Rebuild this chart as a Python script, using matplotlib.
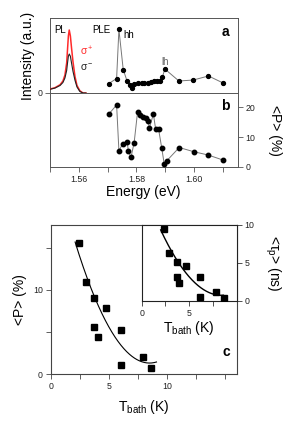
import numpy as np
import matplotlib
matplotlib.use("Agg")
import matplotlib.pyplot as plt
from matplotlib.ticker import FixedLocator

plt.rcParams['font.family'] = ['Liberation Sans', 'DejaVu Sans']
plt.rcParams['mathtext.fontset'] = 'custom'
plt.rcParams['mathtext.rm'] = 'Liberation Sans'
plt.rcParams['mathtext.it'] = 'Liberation Sans:italic'

# ---------------- data ----------------
# panel a: PL spectra
pl_energy = [1.5499, 1.5516, 1.5534, 1.5544, 1.5551, 1.5557, 1.5560, 1.5563,
             1.5566, 1.5570, 1.5574, 1.5579, 1.5586, 1.5593, 1.5603, 1.5614, 1.5624]
pl_sigma_plus = [0.053, 0.07, 0.11, 0.16, 0.24, 0.40, 0.58, 0.76,
                 0.84, 0.76, 0.60, 0.42, 0.22, 0.10, 0.03, 0.0, 0.0]
pl_sigma_minus = [0.05, 0.065, 0.10, 0.14, 0.20, 0.30, 0.40, 0.49,
                  0.52, 0.49, 0.40, 0.29, 0.17, 0.08, 0.02, 0.0, 0.0]
# panel a: PLE
ple_energy = [1.5703, 1.5731, 1.5739, 1.5754, 1.5767, 1.5776, 1.5783, 1.5793,
              1.5805, 1.5818, 1.5828, 1.5840, 1.5851, 1.5861, 1.5871, 1.5882,
              1.5890, 1.5899, 1.5948, 1.5998, 1.6051, 1.6102]
ple_intensity = [0.124, 0.193, 0.847, 0.313, 0.164, 0.107, 0.071, 0.12,
                 0.129, 0.137, 0.127, 0.137, 0.153, 0.16, 0.16, 0.16,
                 0.207, 0.32, 0.16, 0.173, 0.227, 0.133]
# panel b: polarization vs energy
pol_energy = [1.5704, 1.5731, 1.5739, 1.5752, 1.5768, 1.5772, 1.5781, 1.5792,
              1.5804, 1.5812, 1.5822, 1.5832, 1.5841, 1.5845, 1.5859, 1.5867,
              1.5877, 1.5888, 1.5897, 1.5905, 1.5949, 1.6000, 1.6050, 1.6102]
pol_values = [17.7, 20.7, 5.4, 7.7, 8.2, 5.3, 3.2, 8.1,
              18.4, 17.3, 16.8, 16.4, 15.3, 12.9, 17.7, 12.6,
              12.7, 6.4, 0.9, 2.0, 6.5, 5.1, 4.0, 2.3]
# panel c: polarization vs bath temperature
tbath = [2.44, 3.02, 3.76, 4.74, 3.76, 4.05, 6.06, 6.06, 7.90, 8.65]
pol_tbath = [15.56, 10.92, 9.01, 7.89, 5.63, 4.37, 5.24, 1.07, 1.99, 0.68]
# inset: spin relaxation time vs bath temperature
tbath_inset = [2.36, 2.92, 3.70, 4.68, 3.70, 3.97, 6.09, 6.09, 7.85, 8.63]
tau_inset = [9.43, 6.28, 5.17, 4.64, 3.12, 2.41, 3.20, 0.57, 1.22, 0.43]
# fitted curves (quadratic model: c + k*(T - T0)^2)
fit_main = (1.3, 0.351, 8.5, 2.1, 9.1)     # c, k, T0, Tstart, Tend
fit_inset = (0.75, 0.21, 8.4, 2.0, 8.6)

# ---------------- figure ----------------
W, H = 288, 426
fig = plt.figure(figsize=(W / 100, H / 100), dpi=100)

def fx(px):
    return px / W

def fy(py):
    return 1 - py / H

frame_col = '#555555'
tick_col = '#222222'
TL = 3.6  # tick length in points
TS = 6.3  # tick label size

ax_a = fig.add_axes([fx(50), fy(93), fx(237.5) - fx(50), fy(18) - fy(93)])
ax_b = fig.add_axes([fx(50), fy(167), fx(237.5) - fx(50), fy(93) - fy(167)], sharex=ax_a)

for ax in (ax_a, ax_b):
    for s in ax.spines.values():
        s.set_color(frame_col)
        s.set_linewidth(0.7)
    ax.tick_params(colors=frame_col, labelcolor=tick_col, labelsize=TS,
                   direction='out', length=TL, width=0.6, pad=2)

# panel a
ax_a.plot(pl_energy, pl_sigma_plus, color='#ff2a2a', lw=1.1, zorder=3)
ax_a.plot(pl_energy, pl_sigma_minus, color='#222222', lw=0.8, zorder=4)
ax_a.plot(ple_energy, ple_intensity, color='#777777', lw=0.7, marker='o',
          markersize=2.8, markerfacecolor='k', markeredgecolor='k', zorder=5)
ax_a.set_xlim(1.5499, 1.6152)
ax_a.set_ylim(0, 1.0)
ax_a.set_yticks([0])
ax_a.set_yticklabels(['0'])
ax_a.tick_params(axis='x', which='both', bottom=False, labelbottom=False)
ax_a.set_ylabel('Intensity (a.u.)', fontsize=10, labelpad=2)
ax_a.text(1.5515, 0.84, 'PL', fontsize=7, va='center', ha='left')
ax_a.text(1.5645, 0.84, 'PLE', fontsize=7, va='center', ha='left')
ax_a.text(1.5753, 0.78, 'hh', fontsize=7, va='center', ha='left')
ax_a.text(1.5888, 0.41, 'lh', fontsize=7, va='center', ha='left', color='#666666')
ax_a.text(1.5605, 0.56, r'$\mathregular{\sigma^+}$', fontsize=7.5, color='#ff2a2a',
          va='center', ha='left')
ax_a.text(1.5605, 0.34, r'$\mathregular{\sigma^-}$', fontsize=7.5, color='#222222',
          va='center', ha='left')
ax_a.text(0.955, 0.81, 'a', transform=ax_a.transAxes, fontsize=10,
          fontweight='bold', ha='right', va='center')

# panel b
ax_b.plot(pol_energy, pol_values, color='#777777', lw=0.7, marker='o',
          markersize=3.2, markerfacecolor='k', markeredgecolor='k', zorder=5)
ax_b.set_ylim(0, 24.7)
ax_b.yaxis.set_label_position('right')
ax_b.yaxis.tick_right()
ax_b.set_yticks([0, 10, 20])
ax_b.set_yticklabels(['0', '10', '20'])
ax_b.xaxis.set_major_locator(FixedLocator([1.56, 1.58, 1.60]))
ax_b.xaxis.set_minor_locator(FixedLocator([1.55, 1.57, 1.59, 1.61]))
ax_b.set_xticklabels(['1.56', '1.58', '1.60'])
ax_b.tick_params(which='minor', direction='out', length=TL, width=0.6, colors=frame_col)
ax_b.set_xlabel('Energy (eV)', fontsize=10, labelpad=1)
ax_b.set_ylabel('<P> (%)', fontsize=10, rotation=270, labelpad=19)
ax_b.text(0.955, 0.82, 'b', transform=ax_b.transAxes, fontsize=10,
          fontweight='bold', ha='right', va='center')

# panel c
ax_c = fig.add_axes([fx(50.7), fy(374), fx(236.7) - fx(50.7), fy(225) - fy(374)])
for s in ax_c.spines.values():
    s.set_color('#444444')
    s.set_linewidth(0.8)
ax_c.tick_params(which='both', colors='#444444', labelcolor=tick_col, labelsize=TS,
                 direction='out', length=TL, width=0.6, pad=2)
ax_c.plot(tbath, pol_tbath, 's', color='k', markersize=4.8, zorder=4)
c0, k0, t0, ts, te = fit_main
tt = np.linspace(ts, te, 200)
ax_c.plot(tt, c0 + k0 * (tt - t0) ** 2, color='k', lw=0.8, zorder=3)
ax_c.set_xlim(0, 16)
ax_c.set_ylim(0, 17.7)
ax_c.xaxis.set_major_locator(FixedLocator([0, 5, 10]))
ax_c.xaxis.set_minor_locator(FixedLocator([2.5, 7.5, 12.5, 15]))
ax_c.yaxis.set_major_locator(FixedLocator([0, 10]))
ax_c.yaxis.set_minor_locator(FixedLocator([5, 15]))
ax_c.set_xticklabels(['0', '5', '10'])
ax_c.set_yticklabels(['0', '10'])
ax_c.set_xlabel(r'T$_{\mathregular{bath}}$ (K)', fontsize=10, labelpad=5)
ax_c.set_ylabel('<P> (%)', fontsize=10, labelpad=4)
ax_c.text(0.965, 0.15, 'c', transform=ax_c.transAxes, fontsize=10,
          fontweight='bold', ha='right', va='center')

# inset
ax_i = fig.add_axes([fx(141.7), fy(301), fx(236.7) - fx(141.7), fy(225) - fy(301)])
for s in ax_i.spines.values():
    s.set_color('#222222')
    s.set_linewidth(0.8)
ax_i.tick_params(which='both', colors='#333333', labelcolor=tick_col, labelsize=TS,
                 direction='out', length=TL, width=0.6, pad=2)
ax_i.plot(tbath_inset, tau_inset, 's', color='k', markersize=4.3, zorder=4)
c1, k1, t1, ts1, te1 = fit_inset
tt1 = np.linspace(ts1, te1, 200)
ax_i.plot(tt1, c1 + k1 * (tt1 - t1) ** 2, color='k', lw=1.0, zorder=3)
ax_i.set_xlim(0, 10)
ax_i.set_ylim(0, 10)
ax_i.yaxis.tick_right()
ax_i.yaxis.set_label_position('right')
ax_i.xaxis.set_major_locator(FixedLocator([0, 5]))
ax_i.xaxis.set_minor_locator(FixedLocator([2.5, 7.5]))
ax_i.set_xticklabels(['0', '5'])
ax_i.set_yticks([0, 5, 10])
ax_i.set_yticklabels(['0', '5', '10'])
ax_i.set_xlabel(r'T$_{\mathregular{bath}}$ (K)', fontsize=10, labelpad=1)
ax_i.set_ylabel(r'<$\mathregular{\tau_p}$> (ns)', fontsize=10, rotation=270, labelpad=20)

fig.savefig('out.png', dpi=100)
